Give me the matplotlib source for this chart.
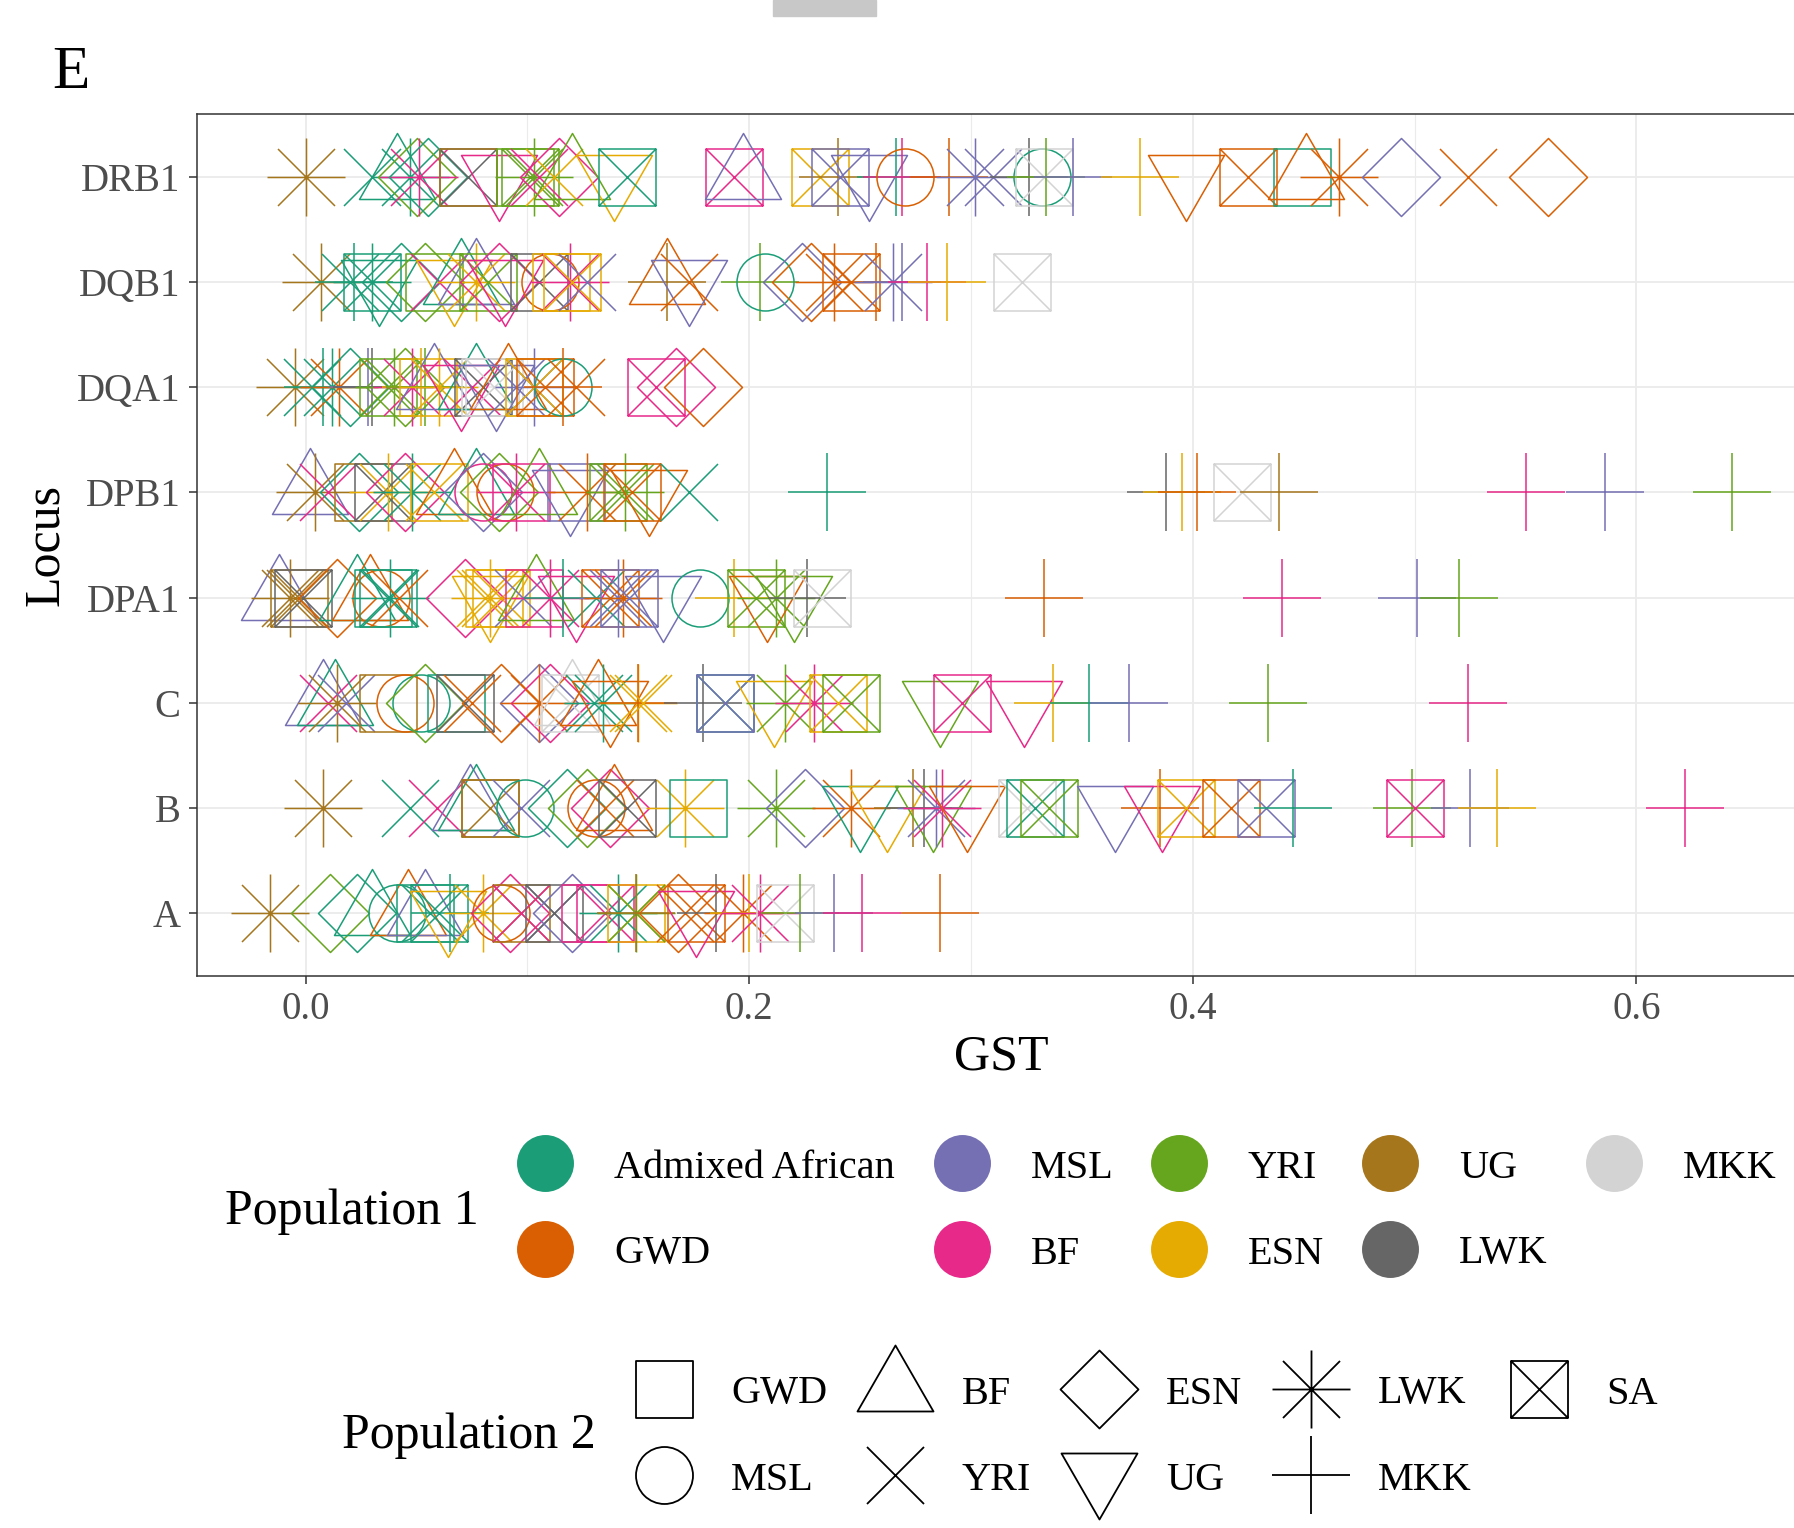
import numpy as np
import matplotlib
matplotlib.use("Agg")
import matplotlib.pyplot as plt
from matplotlib.path import Path
from matplotlib.patches import Rectangle

W, H, DPI = 1794, 1528, 100
plt.rcParams['font.family'] = ['Liberation Serif', 'DejaVu Serif']

# y categories, bottom to top
loci = ['A', 'B', 'C', 'DPA1', 'DPB1', 'DQA1', 'DQB1', 'DRB1']

# population 1 -> colour
pop1_codes = ['AA', 'GWD', 'MSL', 'BF', 'YRI', 'ESN', 'UG', 'LWK', 'MKK']
pop1_labels = ['Admixed African', 'GWD', 'MSL', 'BF', 'YRI', 'ESN', 'UG', 'LWK', 'MKK']
pop1_colors = ['#1B9E77', '#D95F02', '#7570B3', '#E7298A', '#66A61E',
               '#E6AB02', '#A6761D', '#666666', '#D3D3D3']

# population 2 -> shape
pop2_labels = ['GWD', 'MSL', 'BF', 'YRI', 'ESN', 'UG', 'LWK', 'MKK', 'SA']

# GST per locus: (population 1, population 2, GST)
gst_A = [("UG", "LWK", -0.016), ("YRI", "ESN", 0.011), ("AA", "ESN", 0.023), ("AA", "BF", 0.030),
         ("AA", "MSL", 0.041), ("GWD", "BF", 0.046), ("AA", "GWD", 0.054), ("MSL", "BF", 0.054),
         ("AA", "YRI", 0.056), ("AA", "SA", 0.060), ("ESN", "UG", 0.064), ("AA", "MKK", 0.065),
         ("ESN", "LWK", 0.080), ("GWD", "MSL", 0.088), ("BF", "ESN", 0.092), ("UG", "SA", 0.097),
         ("BF", "YRI", 0.097), ("MSL", "YRI", 0.112), ("LWK", "SA", 0.112), ("MSL", "ESN", 0.120),
         ("BF", "GWD", 0.128), ("BF", "SA", 0.135), ("AA", "LWK", 0.141), ("ESN", "SA", 0.149),
         ("YRI", "LWK", 0.149), ("UG", "MKK", 0.149), ("GWD", "ESN", 0.168), ("GWD", "YRI", 0.171),
         ("GWD", "SA", 0.176), ("BF", "UG", 0.176), ("LWK", "MKK", 0.185), ("GWD", "LWK", 0.197),
         ("ESN", "MKK", 0.200), ("BF", "LWK", 0.205), ("MKK", "SA", 0.216), ("YRI", "MKK", 0.223),
         ("MSL", "MKK", 0.238), ("BF", "MKK", 0.251), ("GWD", "MKK", 0.286)]

gst_B = [("UG", "LWK", 0.008), ("AA", "YRI", 0.047), ("BF", "YRI", 0.059), ("MSL", "BF", 0.074),
         ("AA", "BF", 0.077), ("UG", "GWD", 0.083), ("UG", "SA", 0.083), ("MSL", "YRI", 0.097),
         ("AA", "MSL", 0.099), ("AA", "ESN", 0.118), ("YRI", "ESN", 0.127), ("GWD", "MSL", 0.131),
         ("GWD", "YRI", 0.135), ("BF", "ESN", 0.137), ("GWD", "BF", 0.139), ("LWK", "SA", 0.145),
         ("ESN", "LWK", 0.171), ("AA", "GWD", 0.177), ("YRI", "LWK", 0.212), ("MSL", "ESN", 0.225),
         ("GWD", "LWK", 0.246), ("AA", "UG", 0.250), ("ESN", "UG", 0.262), ("UG", "MKK", 0.274),
         ("LWK", "MKK", 0.279), ("YRI", "UG", 0.283), ("MSL", "LWK", 0.284), ("BF", "LWK", 0.287),
         ("GWD", "UG", 0.298), ("MKK", "SA", 0.325), ("AA", "SA", 0.329), ("YRI", "SA", 0.335),
         ("MSL", "UG", 0.365), ("GWD", "MKK", 0.385), ("BF", "UG", 0.386), ("ESN", "SA", 0.397),
         ("GWD", "SA", 0.417), ("MSL", "SA", 0.433), ("AA", "MKK", 0.445), ("YRI", "MKK", 0.499),
         ("BF", "SA", 0.500), ("MSL", "MKK", 0.525), ("ESN", "MKK", 0.537), ("BF", "MKK", 0.622)]

gst_C = [("MSL", "BF", 0.008), ("BF", "YRI", 0.010), ("AA", "BF", 0.013), ("UG", "LWK", 0.014),
         ("MSL", "YRI", 0.018), ("UG", "GWD", 0.037), ("GWD", "MSL", 0.045), ("AA", "MSL", 0.052),
         ("YRI", "ESN", 0.054), ("AA", "GWD", 0.068), ("LWK", "SA", 0.072), ("GWD", "YRI", 0.075),
         ("GWD", "ESN", 0.088), ("MSL", "ESN", 0.105), ("GWD", "LWK", 0.105), ("BF", "ESN", 0.110),
         ("MKK", "SA", 0.119), ("MKK", "BF", 0.120), ("AA", "YRI", 0.130), ("GWD", "BF", 0.132),
         ("AA", "LWK", 0.134), ("GWD", "UG", 0.137), ("ESN", "LWK", 0.150), ("GWD", "MKK", 0.150),
         ("ESN", "YRI", 0.152), ("LWK", "MKK", 0.179), ("AA", "SA", 0.189), ("MSL", "SA", 0.189),
         ("ESN", "UG", 0.211), ("YRI", "LWK", 0.216), ("BF", "LWK", 0.229), ("ESN", "SA", 0.240),
         ("YRI", "SA", 0.246), ("YRI", "UG", 0.286), ("BF", "SA", 0.296), ("BF", "UG", 0.324),
         ("ESN", "MKK", 0.337), ("AA", "MKK", 0.353), ("MSL", "MKK", 0.371), ("YRI", "MKK", 0.434),
         ("BF", "MKK", 0.524)]

gst_DPA1 = [("MSL", "BF", -0.012), ("UG", "LWK", -0.007), ("UG", "YRI", -0.005), ("UG", "SA", -0.003),
            ("LWK", "SA", -0.001), ("GWD", "ESN", 0.014), ("AA", "BF", 0.023), ("GWD", "BF", 0.029),
            ("GWD", "MSL", 0.034), ("AA", "GWD", 0.035), ("AA", "SA", 0.037), ("AA", "LWK", 0.038),
            ("GWD", "YRI", 0.042), ("BF", "ESN", 0.072), ("ESN", "YRI", 0.081), ("ESN", "UG", 0.083),
            ("ESN", "LWK", 0.083), ("ESN", "GWD", 0.085), ("ESN", "SA", 0.088), ("MSL", "YRI", 0.098),
            ("BF", "GWD", 0.103), ("YRI", "BF", 0.104), ("BF", "LWK", 0.110), ("AA", "MKK", 0.116),
            ("BF", "UG", 0.122), ("AA", "YRI", 0.131), ("GWD", "SA", 0.137), ("MSL", "LWK", 0.141),
            ("GWD", "LWK", 0.143), ("MSL", "SA", 0.146), ("MSL", "UG", 0.161), ("AA", "MSL", 0.178),
            ("ESN", "MKK", 0.193), ("YRI", "SA", 0.203), ("GWD", "UG", 0.208), ("YRI", "LWK", 0.212),
            ("YRI", "UG", 0.220), ("LWK", "MKK", 0.226), ("MKK", "SA", 0.233), ("GWD", "MKK", 0.333),
            ("BF", "MKK", 0.440), ("MSL", "MKK", 0.501), ("YRI", "MKK", 0.520)]

gst_DPB1 = [("MSL", "BF", 0.002), ("UG", "LWK", 0.004), ("BF", "YRI", 0.010), ("AA", "ESN", 0.024),
            ("UG", "GWD", 0.026), ("LWK", "SA", 0.035), ("ESN", "LWK", 0.037), ("BF", "ESN", 0.045),
            ("AA", "LWK", 0.048), ("ESN", "YRI", 0.058), ("ESN", "GWD", 0.060), ("GWD", "BF", 0.067),
            ("AA", "BF", 0.077), ("BF", "MSL", 0.080), ("MSL", "ESN", 0.080), ("YRI", "ESN", 0.087),
            ("GWD", "MSL", 0.090), ("BF", "LWK", 0.095), ("BF", "GWD", 0.097), ("YRI", "BF", 0.105),
            ("MSL", "UG", 0.119), ("MSL", "GWD", 0.122), ("GWD", "LWK", 0.127), ("YRI", "SA", 0.141),
            ("YRI", "LWK", 0.144), ("GWD", "SA", 0.147), ("GWD", "UG", 0.155), ("AA", "YRI", 0.173),
            ("AA", "MKK", 0.235), ("LWK", "MKK", 0.388), ("ESN", "MKK", 0.395), ("GWD", "MKK", 0.402),
            ("MKK", "SA", 0.422), ("UG", "MKK", 0.439), ("BF", "MKK", 0.550), ("MSL", "MKK", 0.586),
            ("YRI", "MKK", 0.643)]

gst_DQA1 = [("UG", "LWK", -0.005), ("AA", "YRI", 0.003), ("AA", "MKK", 0.008), ("AA", "LWK", 0.012),
            ("GWD", "LWK", 0.015), ("AA", "ESN", 0.020), ("MSL", "MKK", 0.028), ("LWK", "MKK", 0.030),
            ("YRI", "SA", 0.037), ("YRI", "LWK", 0.040), ("YRI", "ESN", 0.045), ("BF", "LWK", 0.048),
            ("ESN", "MKK", 0.052), ("YRI", "MKK", 0.054), ("ESN", "GWD", 0.055), ("MSL", "BF", 0.058),
            ("ESN", "LWK", 0.060), ("BF", "UG", 0.070), ("BF", "YRI", 0.075), ("AA", "BF", 0.077),
            ("LWK", "SA", 0.080), ("MKK", "GWD", 0.083), ("MKK", "SA", 0.085), ("MSL", "UG", 0.086),
            ("GWD", "BF", 0.091), ("MSL", "YRI", 0.095), ("MSL", "LWK", 0.103), ("ESN", "SA", 0.103),
            ("GWD", "SA", 0.108), ("AA", "MSL", 0.116), ("GWD", "MKK", 0.116), ("GWD", "YRI", 0.122),
            ("BF", "SA", 0.158), ("BF", "ESN", 0.167), ("GWD", "ESN", 0.179)]

gst_DQB1 = [("UG", "LWK", 0.007), ("AA", "YRI", 0.020), ("AA", "MKK", 0.022), ("AA", "GWD", 0.030),
            ("AA", "LWK", 0.030), ("AA", "UG", 0.033), ("AA", "ESN", 0.043), ("YRI", "ESN", 0.054),
            ("YRI", "GWD", 0.058), ("BF", "YRI", 0.060), ("ESN", "UG", 0.067), ("AA", "BF", 0.070),
            ("MSL", "BF", 0.077), ("ESN", "LWK", 0.077), ("YRI", "SA", 0.082), ("BF", "ESN", 0.087),
            ("BF", "UG", 0.090), ("LWK", "SA", 0.105), ("GWD", "MSL", 0.110), ("ESN", "GWD", 0.115),
            ("BF", "LWK", 0.119), ("ESN", "SA", 0.120), ("MSL", "YRI", 0.127), ("GWD", "BF", 0.163),
            ("UG", "MKK", 0.163), ("MSL", "UG", 0.173), ("GWD", "YRI", 0.173), ("YRI", "MKK", 0.205),
            ("AA", "MSL", 0.207), ("MSL", "ESN", 0.224), ("GWD", "ESN", 0.228), ("GWD", "LWK", 0.238),
            ("GWD", "SA", 0.246), ("GWD", "MKK", 0.257), ("MSL", "LWK", 0.265), ("MSL", "MKK", 0.269),
            ("BF", "MKK", 0.280), ("ESN", "MKK", 0.289), ("MKK", "SA", 0.323)]

gst_DRB1 = [("UG", "LWK", 0.000), ("AA", "YRI", 0.030), ("AA", "BF", 0.041), ("AA", "LWK", 0.047),
            ("YRI", "ESN", 0.050), ("BF", "LWK", 0.051), ("AA", "ESN", 0.055), ("LWK", "SA", 0.073),
            ("UG", "GWD", 0.073), ("BF", "UG", 0.087), ("YRI", "GWD", 0.099), ("YRI", "SA", 0.101),
            ("YRI", "LWK", 0.103), ("BF", "YRI", 0.105), ("ESN", "YRI", 0.112), ("BF", "ESN", 0.114),
            ("YRI", "BF", 0.120), ("ESN", "UG", 0.139), ("AA", "SA", 0.145), ("BF", "SA", 0.193),
            ("MSL", "BF", 0.197), ("ESN", "SA", 0.232), ("UG", "MKK", 0.240), ("MSL", "SA", 0.241),
            ("MSL", "UG", 0.254), ("AA", "MKK", 0.266), ("BF", "MKK", 0.269), ("GWD", "MSL", 0.270),
            ("GWD", "MKK", 0.290), ("MSL", "LWK", 0.302), ("MSL", "YRI", 0.310), ("LWK", "MKK", 0.326),
            ("AA", "MSL", 0.332), ("MKK", "SA", 0.333), ("YRI", "MKK", 0.334), ("MSL", "MKK", 0.346),
            ("ESN", "MKK", 0.376), ("GWD", "UG", 0.397), ("GWD", "SA", 0.425), ("AA", "GWD", 0.449),
            ("GWD", "BF", 0.451), ("GWD", "LWK", 0.466), ("MSL", "ESN", 0.494), ("GWD", "YRI", 0.524),
            ("GWD", "ESN", 0.560)]

gst_by_locus = {'A': gst_A, 'B': gst_B, 'C': gst_C, 'DPA1': gst_DPA1, 'DPB1': gst_DPB1,
                'DQA1': gst_DQA1, 'DQB1': gst_DQB1, 'DRB1': gst_DRB1}


# ggplot-like open shapes, built in pixel units
M, L, CL = Path.MOVETO, Path.LINETO, Path.CLOSEPOLY


def poly(pts):
    return list(pts) + [pts[0]], [M] + [L] * (len(pts) - 1) + [CL]


def segs(lines):
    v, c = [], []
    for a, b in lines:
        v += [a, b]
        c += [M, L]
    return v, c


def join(*parts):
    v, c = [], []
    for pv, pc in parts:
        v += list(pv)
        c += list(pc)
    return v, c


def marker(parts):
    v, c = parts
    p = Path(np.array(v, float), c)
    r = np.abs(p.vertices).max()
    return p, 2 * r * 72 / DPI


hs = 28.5   # half side of square / x
hp = 39     # half length of plus
sq = poly([(-hs, -hs), (hs, -hs), (hs, hs), (-hs, hs)])
xx = segs([((-hs, -hs), (hs, hs)), ((-hs, hs), (hs, -hs))])
pl = segs([((-hp, 0), (hp, 0)), ((0, -hp), (0, hp))])
circ = Path.circle((0, 0), 28.5)

shapes = {
    'GWD': marker(sq),
    'MSL': marker((circ.vertices, circ.codes)),
    'BF': marker(poly([(0, 44), (-38, -22), (38, -22)])),
    'YRI': marker(xx),
    'ESN': marker(poly([(0, 39), (39, 0), (0, -39), (-39, 0)])),
    'UG': marker(poly([(0, -44), (-38, 22), (38, 22)])),
    'LWK': marker(join(pl, xx)),
    'MKK': marker(pl),
    'SA': marker(join(sq, xx)),
}
color_of = dict(zip(pop1_codes, pop1_colors))

fig = plt.figure(figsize=(W / DPI, H / DPI), dpi=DPI)

# legend layer (pixel coordinates)
lax = fig.add_axes([0, 0, 1, 1])
lax.set_xlim(0, W)
lax.set_ylim(H, 0)
lax.axis('off')

ax = fig.add_axes([197 / W, 1 - 976 / H, (1805 - 197) / W, (976 - 114) / H])
ax.set_xlim(-0.049, 0.676)
ax.set_ylim(-0.6, len(loci) - 0.4)

for i, locus in enumerate(loci):
    for p1, p2, g in gst_by_locus[locus]:
        path, ms = shapes[p2]
        ax.plot([g], [i], ls='none', marker=path, ms=ms, mfc='none',
                mec=color_of[p1], mew=1.1)

ax.set_xticks([0.0, 0.2, 0.4, 0.6])
ax.set_xticklabels(['0.0', '0.2', '0.4', '0.6'])
ax.set_xticks([0.1, 0.3, 0.5], minor=True)
ax.set_yticks(range(len(loci)))
ax.set_yticklabels(loci)
ax.set_axisbelow(True)
ax.grid(which='major', color='#EBEBEB', lw=1.3)
ax.grid(which='minor', axis='x', color='#EBEBEB', lw=0.8)
ax.tick_params(which='major', length=5.8, width=1.1, color='#333333',
               labelcolor='#4D4D4D', labelsize=28)
ax.tick_params(axis='y', pad=6)
ax.tick_params(axis='x', pad=5)
ax.tick_params(which='minor', length=0)
for s in ax.spines.values():
    s.set_color('#333333')
    s.set_linewidth(1.1)

fig.text(1001 / W, 1 - 1070 / H, 'GST', ha='center', va='baseline', fontsize=36)
fig.text(46 / W, 1 - 545 / H, 'Locus', rotation=90, ha='center', va='center', fontsize=36)
fig.text(52 / W, 1 - 88 / H, 'E', ha='left', va='baseline', fontsize=44)
fig.patches.append(Rectangle((773 / W, 1 - 16 / H), 103 / W, 16 / H,
                             transform=fig.transFigure, color='#C8C8C8'))

# Population 1 legend (colour)
key1_x = [545, 962, 1179, 1390, 1614]
row1_y = [1163, 1249]
for k, (lab, col) in enumerate(zip(pop1_labels, pop1_colors)):
    x, y = key1_x[k // 2], row1_y[k % 2]
    lax.plot([x], [y], 'o', ms=41, color=col, mew=0)
    lax.text(x + 69, y + 5, lab, ha='left', va='center', fontsize=29)
lax.text(225, 1224, 'Population 1', ha='left', va='baseline', fontsize=36)

# Population 2 legend (shape)
key2_x = [664, 895, 1099, 1311, 1539]
row2_y = [1389, 1475]
for k, lab in enumerate(pop2_labels):
    x, y = key2_x[k // 2], row2_y[k % 2]
    path, ms = shapes[lab]
    lax.plot([x], [y], ls='none', marker=path, ms=ms, mfc='none', mec='black', mew=1.3)
    lax.text(x + 67, y + 5, lab, ha='left', va='center', fontsize=29)
lax.text(342, 1448, 'Population 2', ha='left', va='baseline', fontsize=36)

fig.savefig('out.png', dpi=DPI)
